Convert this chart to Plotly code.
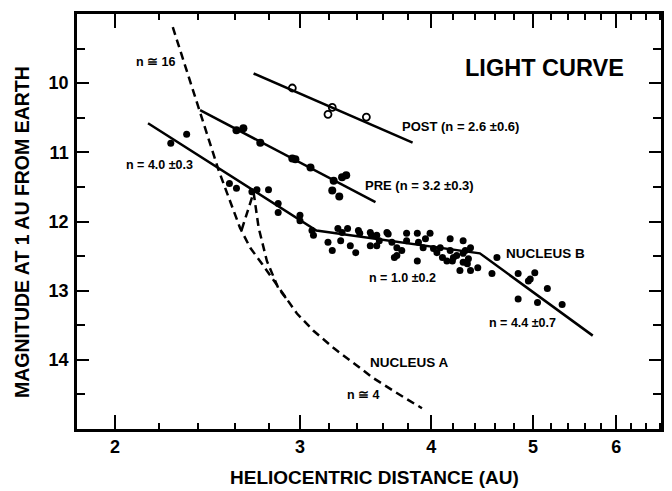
import plotly.graph_objects as go
import numpy as np

# ---- data ----
post_r = [2.95, 3.22, 3.19, 3.47]
post_m = [10.07, 10.35, 10.45, 10.49]
post_fit_r = [2.71, 3.84]
post_fit_m = [9.86, 10.86]

pre_r = [2.61, 2.65, 2.75, 2.95, 2.97, 3.07, 3.22, 3.27, 3.23, 3.29, 3.32]
pre_m = [10.68, 10.65, 10.86, 11.09, 11.10, 11.22, 11.55, 11.64, 11.41, 11.36, 11.33]
pre_fit_r = [2.41, 3.54]
pre_fit_m = [10.39, 11.72]

nucb_r = [2.26, 2.34, 2.57, 2.61, 2.70, 2.73, 2.80, 2.86, 2.86, 3.00, 3.00, 3.08, 3.09,
          3.19, 3.22, 3.26, 3.29, 3.28, 3.33, 3.35, 3.39, 3.41, 3.42, 3.50, 3.51, 3.50,
          3.55, 3.55, 3.63, 3.64, 3.57, 3.67, 3.71, 3.71, 3.75, 3.69, 3.79, 3.79, 3.88,
          3.89, 3.95, 3.99, 3.93, 3.88, 4.02, 4.05, 4.08, 4.10, 4.17, 4.17, 4.19, 4.23,
          4.29, 4.31, 4.29, 4.34, 4.14, 4.20, 4.29, 4.26, 4.33, 4.36, 4.43, 4.36, 4.57,
          4.62, 4.84, 4.95, 5.02, 4.97, 5.16, 4.84, 5.05, 5.33]
nucb_m = [10.87, 10.74, 11.45, 11.52, 11.57, 11.54, 11.54, 11.74, 11.87, 11.91, 11.99, 12.13, 12.20,
          12.30, 12.42, 12.10, 12.16, 12.28, 12.10, 12.35, 12.45, 12.13, 12.17, 12.16, 12.20, 12.35,
          12.35, 12.20, 12.16, 12.18, 12.28, 12.30, 12.38, 12.49, 12.42, 12.52, 12.17, 12.28, 12.17,
          12.30, 12.25, 12.17, 12.38, 12.57, 12.39, 12.45, 12.38, 12.52, 12.25, 12.42, 12.57, 12.49,
          12.28, 12.42, 12.59, 12.54, 12.57, 12.52, 12.46, 12.71, 12.61, 12.38, 12.67, 12.71, 12.75,
          12.52, 12.75, 12.86, 12.74, 12.83, 12.97, 13.12, 13.17, 13.20]
nucb_fit_r = [2.15, 3.11, 4.45, 5.70]
nucb_fit_m = [10.58, 12.13, 12.46, 13.65]

nuca_r = [2.27, 2.40, 2.51, 2.63, 2.69, 2.76, 2.82, 2.89, 2.98, 3.09, 3.23, 3.37, 3.52, 3.71, 3.92]
nuca_m = [9.19, 10.35, 11.26, 12.09, 12.38, 12.61, 12.81, 13.04, 13.33, 13.58, 13.83, 14.04, 14.26, 14.48, 14.70]
spike_r = [2.64, 2.71, 2.74, 2.79, 2.86, 2.92]
spike_m = [12.12, 11.58, 12.09, 12.57, 12.96, 13.14]

x_major = [2, 3, 4, 5, 6]
x_minor = [2.2, 2.4, 2.6, 2.8, 3.2, 3.4, 3.6, 3.8, 4.2, 4.4, 4.6, 4.8,
           5.2, 5.4, 5.6, 5.8, 6.2, 6.4, 6.6]
y_major = [10, 11, 12, 13, 14]
y_minor = [9.5, 10.5, 11.5, 12.5, 13.5, 14.5]

FONT = "Liberation Sans Narrow, Arial Narrow, Liberation Sans, Arial, sans-serif"

fig = go.Figure()
line_style = dict(color="black", width=2.5)
dash_style = dict(color="black", width=2.5, dash="8px,5px")

fig.add_trace(go.Scatter(x=nuca_r, y=nuca_m, mode="lines", line=dash_style))
fig.add_trace(go.Scatter(x=spike_r, y=spike_m, mode="lines", line=dash_style))
fig.add_trace(go.Scatter(x=post_fit_r, y=post_fit_m, mode="lines", line=line_style))
fig.add_trace(go.Scatter(x=pre_fit_r, y=pre_fit_m, mode="lines", line=line_style))
fig.add_trace(go.Scatter(x=nucb_fit_r, y=nucb_fit_m, mode="lines", line=line_style))
fig.add_trace(go.Scatter(x=post_r, y=post_m, mode="markers",
                         marker=dict(symbol="circle-open", size=7, color="black", line=dict(width=1.8))))
fig.add_trace(go.Scatter(x=pre_r, y=pre_m, mode="markers",
                         marker=dict(symbol="circle", size=8, color="black")))
fig.add_trace(go.Scatter(x=nucb_r, y=nucb_m, mode="markers",
                         marker=dict(symbol="circle", size=7, color="black")))

def ann(text, xp, yp, size, **kw):
    fig.add_annotation(text=text, x=xp, y=yp, xref="paper", yref="paper", showarrow=False,
                       xanchor="center", yanchor="middle",
                       font=dict(family=FONT, size=size, color="black"), **kw)

ann("<b>LIGHT CURVE</b>", 0.801, 0.870, 23.5)
ann("<b>n ≅ 16</b>", 0.135, 0.884, 12.5)
ann("<b>n = 4.0 ±0.3</b>", 0.142, 0.636, 12.5)
ann("<b>POST (n = 2.6 ±0.6)</b>", 0.656, 0.728, 13)
ann("<b>PRE (n = 3.2 ±0.3)</b>", 0.587, 0.586, 13)
ann("<b>NUCLEUS B</b>", 0.803, 0.424, 13.5)
ann("<b>n = 1.0 ±0.2</b>", 0.558, 0.364, 12.5)
ann("<b>n = 4.4 ±0.7</b>", 0.762, 0.255, 12.5)
ann("<b>NUCLEUS A</b>", 0.570, 0.161, 13.5)
ann("<b>n ≅ 4</b>", 0.491, 0.082, 12.5)
ann("<b>HELIOCENTRIC DISTANCE (AU)</b>", 0.509, -0.118, 19)
ann("<b>MAGNITUDE AT 1 AU FROM EARTH</b>", -0.094, 0.475, 19.5, textangle=-90)

fig.update_xaxes(type="log", range=[np.log10(1.84), np.log10(6.62)], automargin=False,
                 tickvals=x_major, ticktext=[f"<b>{v}</b>" for v in x_major],
                 ticks="inside", ticklen=14, tickwidth=2, tickcolor="black",
                 minor=dict(tickvals=x_minor, ticks="inside", ticklen=6, tickwidth=2, tickcolor="black"),
                 showline=True, linewidth=2.5, linecolor="black", mirror="ticks",
                 showgrid=False, zeroline=False,
                 tickfont=dict(family=FONT, size=18, color="black"), ticklabelstandoff=0)
fig.update_yaxes(range=[15, 9], automargin=False,
                 tickvals=y_major, ticktext=[f"<b>{v}</b>" for v in y_major],
                 ticks="inside", ticklen=12, tickwidth=2, tickcolor="black",
                 minor=dict(tickvals=y_minor, ticks="inside", ticklen=8, tickwidth=2, tickcolor="black"),
                 showline=True, linewidth=2.5, linecolor="black", mirror="ticks",
                 showgrid=False, zeroline=False,
                 tickfont=dict(family=FONT, size=18, color="black"), ticklabelstandoff=2)

# page body has an 8px default margin, so the figure is offset by 8px
fig.update_layout(width=664, height=483, margin=dict(l=69, r=11, t=6, b=62, autoexpand=False),
                  paper_bgcolor="white", plot_bgcolor="white", showlegend=False)

fig.write_html("out.html")
